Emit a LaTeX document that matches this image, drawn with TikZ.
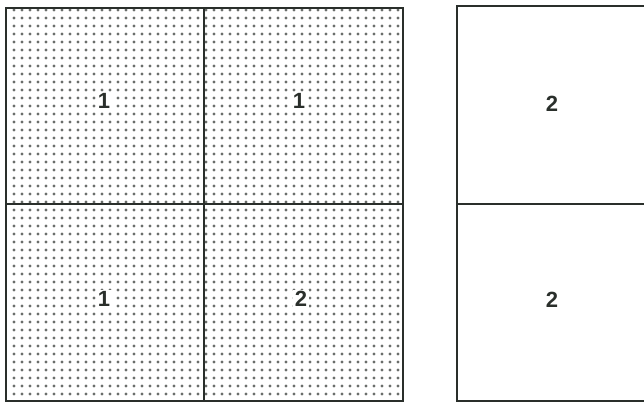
\documentclass[tikz,border=0pt]{standalone}
\usepackage{fontspec}
\setmainfont{Liberation Sans}
\definecolor{linec}{HTML}{2A2F2B}
\definecolor{dotc}{HTML}{6A6E6B}
\tikzset{
  frame/.style={draw=linec, line width=2.4pt},
  num/.style={font=\fontsize{22}{22}\selectfont\bfseries, text=linec, fill=white, inner sep=1.5pt}
}
\begin{document}
\begin{tikzpicture}[x=1pt,y=-1pt]
\useasboundingbox (0,0) rectangle (644,404);
\clip (0,0) rectangle (644,404);
% dots
\foreach \i in {0,...,48} {
  \foreach \j in {0,...,48} {
    \fill[dotc] ({14+8*\i},{10+8*\j}) circle (1.6pt);
  }
}
% left grid
\coordinate (LTL) at (6,8);
\coordinate (LBR) at (403,401);
\draw[frame] (LTL) rectangle (LBR);
\coordinate (vt) at (204,8);
\coordinate (vb) at (204,401);
\coordinate (hl) at (6,204);
\coordinate (hr) at (403,204);
\draw[frame] (vt) -- (vb);
\draw[frame] (hl) -- (hr);
% right boxes
\coordinate (RTL) at (457,6);
\coordinate (RBR) at (660,401);
\draw[frame] (RTL) rectangle (RBR);
\coordinate (rl) at (457,204);
\coordinate (rr) at (660,204);
\draw[frame] (rl) -- (rr);
% labels
\node[num] (a) at (104,101) {1};
\node[num] (b) at (299,101) {1};
\node[num] (c) at (104,299) {1};
\node[num] (d) at (301,299) {2};
\node[num, fill=none] (e) at (552,104) {2};
\node[num, fill=none] (f) at (552,300) {2};
\end{tikzpicture}
\end{document}
